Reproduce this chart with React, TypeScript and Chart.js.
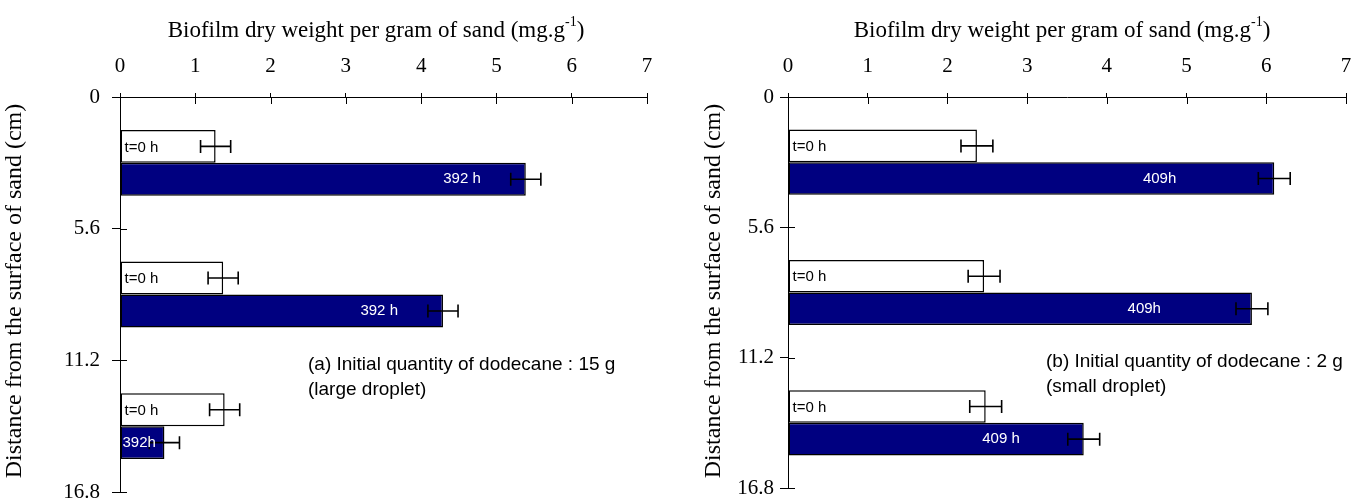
import React, { useEffect, useRef } from "react";
import { Chart, registerables } from "chart.js";

Chart.register(...registerables);

// ---------- data ----------
const depthBands = ["0–5.6", "5.6–11.2", "11.2–16.8"];
const depthTicks = [0, 5.6, 11.2, 16.8];
const weightTicks = [0, 1, 2, 3, 4, 5, 6, 7];

const initialA = [1.27, 1.37, 1.39];
const initialAErr = [0.2, 0.2, 0.2];
const finalA = [5.39, 4.29, 0.59];
const finalAErr = [0.2, 0.2, 0.2];
const finalLabelsA = ["392 h", "392 h", "392h"];

const initialB = [2.37, 2.46, 2.48];
const initialBErr = [0.2, 0.2, 0.2];
const finalB = [6.1, 5.82, 3.71];
const finalBErr = [0.2, 0.2, 0.2];
const finalLabelsB = ["409h", "409h", "409 h"];

const initialLabel = "t=0 h";
const xTitleMain = "Biofilm dry weight per gram of sand (mg.g";
const xTitleSup = "-1";
const xTitleEnd = ")";
const yTitle = "Distance from the surface of sand (cm)";
const noteA = ["(a) Initial quantity of dodecane : 15 g", "(large droplet)"];
const noteB = ["(b) Initial quantity of dodecane : 2 g", "(small droplet)"];

// ---------- styles ----------
const SERIF = '"Liberation Serif", "Times New Roman", serif';
const SANS = '"Liberation Sans", Arial, sans-serif';
const NAVY = "#000080";

type Panel = {
  left: number;
  width: number;
  axisWidth: number;
  padRight: number;
  padBottom: number;
  yTickPad: number;
  initial: number[];
  initialErr: number[];
  final: number[];
  finalErr: number[];
  finalLabels: string[];
  finalLabelPlace: { mode: "end" | "start"; dx: number }[];
  note: string[];
  noteX: number;
  noteY: number;
  titleX: number;
  yTitleX: number;
  yTitleY: number;
};

const panels: Panel[] = [
  {
    left: 0,
    width: 680,
    axisWidth: 120,
    padRight: 33,
    padBottom: 9,
    yTickPad: 12,
    initial: initialA,
    initialErr: initialAErr,
    final: finalA,
    finalErr: finalAErr,
    finalLabels: finalLabelsA,
    finalLabelPlace: [
      { mode: "end", dx: -45 },
      { mode: "end", dx: -45 },
      { mode: "start", dx: 2 },
    ],
    note: noteA,
    noteX: 308,
    noteY: 365,
    titleX: 376,
    yTitleX: 15,
    yTitleY: 291,
  },
  {
    left: 680,
    width: 683,
    axisWidth: 108,
    padRight: 17,
    padBottom: 13,
    yTickPad: 6,
    initial: initialB,
    initialErr: initialBErr,
    final: finalB,
    finalErr: finalBErr,
    finalLabels: finalLabelsB,
    finalLabelPlace: [
      { mode: "end", dx: -98 },
      { mode: "end", dx: -91 },
      { mode: "end", dx: -64 },
    ],
    note: noteB,
    noteX: 366,
    noteY: 362,
    titleX: 382,
    yTitleX: 34,
    yTitleY: 291,
  },
];

const overlayPlugin = {
  id: "overlay",
  afterDatasetsDraw(chart: any, _args: any, opts: any) {
    const ctx = chart.ctx as CanvasRenderingContext2D;
    const xs = chart.scales.x;
    const ys = chart.scales.yDepth;
    const area = chart.chartArea;
    ctx.save();

    // inner tick marks
    ctx.strokeStyle = "#000";
    ctx.lineWidth = 1;
    ctx.beginPath();
    for (const v of weightTicks) {
      const px = Math.round(xs.getPixelForValue(v)) + 0.5;
      ctx.moveTo(px, area.top);
      ctx.lineTo(px, area.top + 7);
    }
    for (const v of depthTicks) {
      const py = Math.round(ys.getPixelForValue(v)) + 0.5;
      ctx.moveTo(area.left, py);
      ctx.lineTo(area.left + 7, py);
    }
    ctx.stroke();

    // error bars
    ctx.lineWidth = 1.6;
    chart.data.datasets.forEach((ds: any, i: number) => {
      const meta = chart.getDatasetMeta(i);
      meta.data.forEach((el: any, j: number) => {
        const v = ds.data[j];
        const e = ds.errors[j];
        const x1 = xs.getPixelForValue(v - e);
        const x2 = xs.getPixelForValue(v + e);
        const y = el.y;
        ctx.beginPath();
        ctx.moveTo(x1, y);
        ctx.lineTo(x2, y);
        ctx.moveTo(x1, y - 6.5);
        ctx.lineTo(x1, y + 6.5);
        ctx.moveTo(x2, y - 6.5);
        ctx.lineTo(x2, y + 6.5);
        ctx.stroke();
      });
    });

    // bar labels
    ctx.font = `15px ${SANS}`;
    ctx.textBaseline = "middle";
    const m0 = chart.getDatasetMeta(0);
    m0.data.forEach((el: any) => {
      ctx.fillStyle = "#000";
      ctx.textAlign = "left";
      ctx.fillText(initialLabel, el.base + 4, el.y + 1);
    });
    const m1 = chart.getDatasetMeta(1);
    m1.data.forEach((el: any, j: number) => {
      const place = opts.finalLabelPlace[j];
      ctx.fillStyle = "#fff";
      if (place.mode === "end") {
        ctx.textAlign = "right";
        ctx.fillText(opts.finalLabels[j], el.x + place.dx, el.y);
      } else {
        ctx.textAlign = "left";
        ctx.fillText(opts.finalLabels[j], el.base + place.dx, el.y);
      }
    });

    // note
    ctx.fillStyle = "#000";
    ctx.textAlign = "left";
    ctx.font = `19px ${SANS}`;
    opts.note.forEach((line: string, k: number) => {
      ctx.fillText(line, opts.noteX, opts.noteY + k * 25);
    });

    // top title with superscript
    const big = `23px ${SERIF}`;
    const small = `14px ${SERIF}`;
    ctx.font = big;
    const w1 = ctx.measureText(xTitleMain).width;
    const w3 = ctx.measureText(xTitleEnd).width;
    ctx.font = small;
    const w2 = ctx.measureText(xTitleSup).width;
    let tx = opts.titleX - (w1 + w2 + w3) / 2;
    const ty = 37;
    ctx.textBaseline = "alphabetic";
    ctx.font = big;
    ctx.fillText(xTitleMain, tx, ty);
    tx += w1;
    ctx.font = small;
    ctx.fillText(xTitleSup, tx, ty - 11);
    tx += w2;
    ctx.font = big;
    ctx.fillText(xTitleEnd, tx, ty);

    // y title
    ctx.save();
    ctx.translate(opts.yTitleX, opts.yTitleY);
    ctx.rotate(-Math.PI / 2);
    ctx.textAlign = "center";
    ctx.textBaseline = "middle";
    ctx.font = `24px ${SERIF}`;
    ctx.fillText(yTitle, 0, 0);
    ctx.restore();

    ctx.restore();
  },
};

function BarPanel({ p }: { p: Panel }) {
  const ref = useRef<HTMLCanvasElement | null>(null);
  useEffect(() => {
    if (!ref.current) return;
    const chart = new Chart(ref.current, {
      type: "bar",
      data: {
        labels: depthBands,
        datasets: [
          {
            label: initialLabel,
            data: p.initial,
            errors: p.initialErr,
            backgroundColor: "#ffffff",
            borderColor: "#000",
            borderWidth: 1.5,
            borderSkipped: false,
            categoryPercentage: 0.5,
            barPercentage: 1,
            xAxisID: "x",
            yAxisID: "y",
          } as any,
          {
            label: p.finalLabels[0],
            data: p.final,
            errors: p.finalErr,
            backgroundColor: NAVY,
            borderColor: "#000",
            borderWidth: 1.5,
            borderSkipped: false,
            categoryPercentage: 0.5,
            barPercentage: 1,
            xAxisID: "x",
            yAxisID: "y",
          } as any,
        ],
      },
      options: {
        indexAxis: "y",
        responsive: false,
        animation: false,
        devicePixelRatio: 1,
        layout: { padding: { left: 0, top: 0, right: p.padRight, bottom: p.padBottom } },
        plugins: {
          legend: { display: false },
          tooltip: { enabled: false },
          overlay: {
            finalLabels: p.finalLabels,
            finalLabelPlace: p.finalLabelPlace,
            note: p.note,
            noteX: p.noteX,
            noteY: p.noteY,
            titleX: p.titleX,
            yTitleX: p.yTitleX,
            yTitleY: p.yTitleY,
          },
        } as any,
        scales: {
          x: {
            type: "linear",
            position: "top",
            min: 0,
            max: 7,
            offset: false,
            afterBuildTicks: (s: any) => {
              s.ticks = weightTicks.map((v) => ({ value: v }));
            },
            ticks: {
              color: "#000",
              font: { family: SERIF, size: 21 },
              padding: 14,
              maxRotation: 0,
              autoSkip: false,
              callback: (v: any) => String(v),
            },
            grid: {
              display: true,
              drawOnChartArea: false,
              drawTicks: true,
              tickLength: 4,
              offset: false,
              color: "#000",
              lineWidth: 1,
            },
            border: { display: true, color: "#000", width: 1 },
            afterFit: (s: any) => {
              s.height = 97;
              s.paddingLeft = 0;
              s.paddingRight = 0;
            },
          },
          y: {
            type: "category",
            display: false,
            offset: true,
          },
          yDepth: {
            type: "linear",
            position: "left",
            min: 0,
            max: 16.8,
            reverse: true,
            offset: false,
            afterBuildTicks: (s: any) => {
              s.ticks = depthTicks.map((v) => ({ value: v }));
            },
            ticks: {
              color: "#000",
              font: { family: SERIF, size: 21 },
              padding: p.yTickPad,
              autoSkip: false,
              callback: (v: any) => String(v),
            },
            grid: {
              display: true,
              drawOnChartArea: false,
              drawTicks: true,
              tickLength: 8,
              offset: false,
              color: "#000",
              lineWidth: 1,
            },
            border: { display: true, color: "#000", width: 1 },
            afterFit: (s: any) => {
              s.width = p.axisWidth;
              s.paddingTop = 0;
              s.paddingBottom = 0;
            },
          },
        } as any,
      },
      plugins: [overlayPlugin],
    });
    return () => chart.destroy();
  }, [p]);
  return (
    <canvas
      ref={ref}
      width={p.width}
      height={501}
      style={{ position: "fixed", left: p.left, top: 0, width: p.width, height: 501 }}
    />
  );
}

export default function App() {
  return (
    <div style={{ position: "fixed", left: 0, top: 0, width: 1363, height: 501, background: "#fff" }}>
      {panels.map((p, i) => (
        <BarPanel key={i} p={p} />
      ))}
    </div>
  );
}
